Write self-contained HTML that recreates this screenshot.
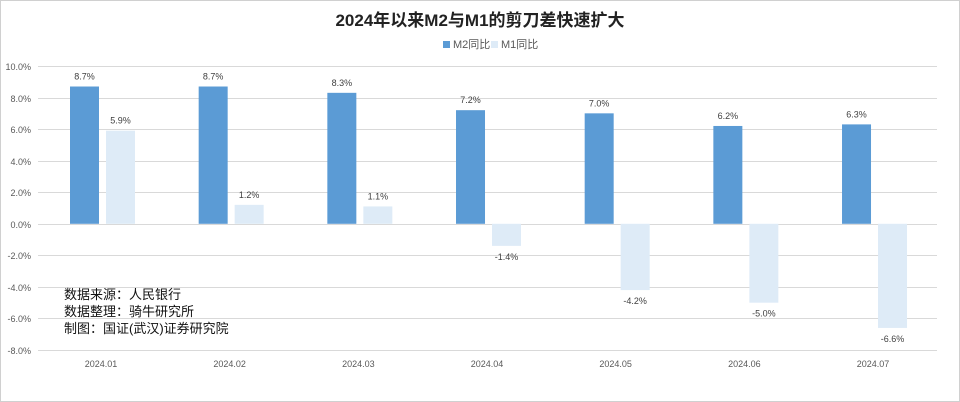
<!DOCTYPE html>
<html><head><meta charset="utf-8"><style>
body{margin:0;background:#fff}
svg{display:block;font-family:"Liberation Sans","Noto Sans CJK SC",sans-serif}
</style></head><body>
<svg width="960" height="402" viewBox="0 0 960 402">
<rect x="0.5" y="0.5" width="959" height="401" fill="#fff" stroke="#d0d0d0"/>
<text x="480" y="26" text-anchor="middle" font-size="17" font-weight="bold" fill="#222">2024年以来M2与M1的剪刀差快速扩大</text>
<rect x="443" y="41" width="7" height="7" fill="#5b9bd5"/>
<text x="453" y="48" font-size="11" fill="#595959">M2同比</text>
<rect x="491" y="41" width="7" height="7" fill="#deebf7"/>
<text x="501" y="48" font-size="11" fill="#595959">M1同比</text>
<g id="grid" stroke="#d9d9d9" stroke-width="1"></g>
<g id="bars"></g>
<text x="64" y="299" font-size="13" fill="#111">数据来源：人民银行</text>
<text x="64" y="316" font-size="13" fill="#111">数据整理：骑牛研究所</text>
<text x="64" y="333" font-size="13" fill="#111">制图：国证(武汉)证券研究院</text>
</svg>
<script>
var ns="http://www.w3.org/2000/svg";
function el(p,t,a,txt){var e=document.createElementNS(ns,t);for(var k in a)e.setAttribute(k,a[k]);if(txt)e.textContent=txt;p.appendChild(e);return e;}
var svg=document.querySelector('svg'),g=document.getElementById('grid'),b=document.getElementById('bars');
function y(v){return 223.8-15.78*v;}
for(var v=10;v>=-8;v-=2){var yy=Math.round(y(v))+0.5;el(g,'line',{x1:38,x2:937,y1:yy,y2:yy});
el(svg,'text',{x:31,y:yy+3.5,'text-anchor':'end','font-size':9,fill:'#595959'},v.toFixed(1)+'%');}
var m2=[8.7,8.7,8.3,7.2,7.0,6.2,6.3],m1=[5.9,1.2,1.1,-1.4,-4.2,-5.0,-6.6];
for(var i=0;i<7;i++){var c=101+128.67*i;
function bar(x,v,col){var top=Math.min(y(v),y(0)),h=Math.abs(y(v)-y(0));el(b,'rect',{x:x,y:top,width:29,height:h,fill:col});
var ty=v>=0?y(v)-7:y(v)+14;el(b,'text',{x:x+14.5,y:ty,'text-anchor':'middle','font-size':9,fill:'#404040'},v.toFixed(1)+'%');}
bar(c-31,m2[i],'#5b9bd5');bar(c+5,m1[i],'#deebf7');
el(svg,'text',{x:c,y:367,'text-anchor':'middle','font-size':9,fill:'#595959'},'2024.0'+(i+1));}
</script>
</body></html>
